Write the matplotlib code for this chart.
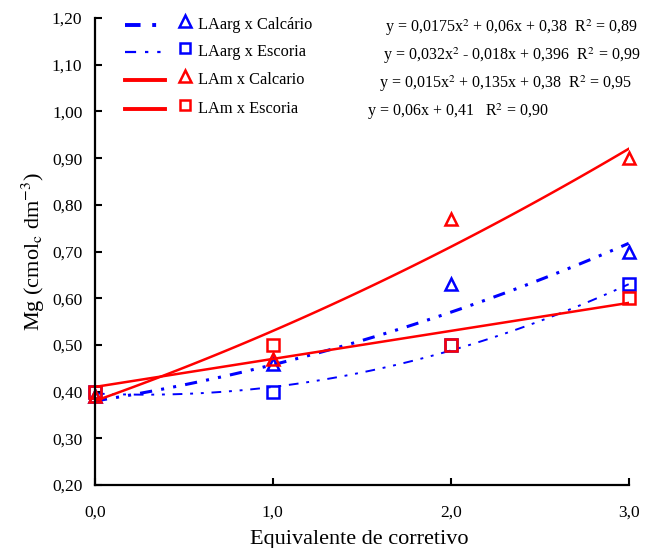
import matplotlib.pyplot as plt
import numpy as np

plt.rcParams['font.family'] = ['Liberation Serif', 'DejaVu Serif']
plt.rcParams['mathtext.fontset'] = 'stix'

# dados
doses = [0, 1, 2, 3]
series_names = ['LAarg x Calcário', 'LAarg x Escoria', 'LAm x Calcario', 'LAm x Escoria']
laarg_calc = [0.39, 0.46, 0.63, 0.70]
laarg_esc = [0.40, 0.40, 0.50, 0.63]
lam_calc = [0.39, 0.47, 0.77, 0.90]
lam_esc = [0.40, 0.50, 0.50, 0.60]

# coeficientes das equações (a2, a1, a0)
coef_laarg_calc = [0.0175, 0.06, 0.38]
coef_laarg_esc = [0.032, -0.018, 0.396]
coef_lam_calc = [0.015, 0.135, 0.38]
coef_lam_esc = [0.0, 0.06, 0.41]

equations = [
    r'y = 0,0175x$^2$ + 0,06x + 0,38  R$^2$ = 0,89',
    r'y = 0,032x$^2$ - 0,018x + 0,396  R$^2$ = 0,99',
    r'y = 0,015x$^2$ + 0,135x + 0,38  R$^2$ = 0,95',
    r'y = 0,06x + 0,41   R$^2$ = 0,90',
]

yticks = [0.2, 0.3, 0.4, 0.5, 0.6, 0.7, 0.8, 0.9, 1.0, 1.1, 1.2]
xticks = [0, 1, 2, 3]

fig = plt.figure(figsize=(6.59, 5.48), dpi=100)
ax = fig.add_axes([0.144, 0.115, 0.81, 0.852])

xs = np.linspace(0, 3, 100)
blue = '#0000ff'
red = '#ff0000'

# estilos: (cor, espessura, espessura legenda, tracejado, marcador, tamanho)
styles = [
    (blue, 2.2, 2.8, (4, 3, 1, 3, 1, 3), '^', 9),
    (blue, 1.4, 1.6, (5, 4, 1.5, 4, 1.5, 4), 's', 8),
    (red, 1.8, 2.8, None, '^', 9),
    (red, 1.8, 2.8, None, 's', 8),
]
coefs = [coef_laarg_calc, coef_laarg_esc, coef_lam_calc, coef_lam_esc]
values = [laarg_calc, laarg_esc, lam_calc, lam_esc]

# posições da legenda (fração dos eixos)
leg_rows = [0.985, 0.927, 0.868, 0.806]

for (c, lw, llw, ds, mk, ms), coef, vals, name, ly in zip(styles, coefs, values, series_names, leg_rows):
    kw = dict(color=c)
    if ds is not None:
        kw['dashes'] = ds
    # linha de tendência
    ax.plot(xs, np.polyval(coef, xs), lw=lw, **kw)
    # pontos
    ax.plot(doses, vals, ls='none', marker=mk, ms=ms, mfc='none', mec=c, mew=1.8, clip_on=False)
    # legenda manual
    ax.plot([0.056, 0.131], [ly, ly], transform=ax.transAxes, clip_on=False, lw=llw, **kw)
    ax.plot([0.169], [ly + 0.008], transform=ax.transAxes, clip_on=False, ls='none',
            marker=mk, ms=ms - 1, mfc='none', mec=c, mew=1.8)
    ax.text(0.193, ly, name, transform=ax.transAxes, ha='left', va='center', fontsize=11.8)

ax.set_xlim(0, 3)
ax.set_ylim(0.2, 1.2)
ax.set_xticks(xticks)
ax.set_xticklabels([('%.1f' % v).replace('.', ',') for v in xticks])
ax.set_yticks(yticks)
ax.set_yticklabels([('%.2f' % v).replace('.', ',') for v in yticks])

ax.spines['top'].set_visible(False)
ax.spines['right'].set_visible(False)
ax.spines['left'].set_linewidth(1.6)
ax.spines['bottom'].set_linewidth(1.6)
ax.tick_params(axis='y', direction='in', length=5, width=1.5, pad=9, labelsize=12.5)
ax.tick_params(axis='x', direction='in', length=5, width=1.5, pad=14, labelsize=12.5)

ax.set_xlabel('Equivalente de corretivo', fontsize=16)
ax.set_ylabel(r'Mg (cmol$_{\mathrm{c}}$ dm$^{-3}$)', fontsize=16)
ax.xaxis.set_label_coords(0.496, -0.097)
ax.yaxis.set_label_coords(-0.09, 0.5)

# equações
eq_x = [0.78, 0.78, 0.77, 0.51]
eq_y = [0.98, 0.92, 0.86, 0.80]
eq_ha = ['center', 'center', 'center', 'left']
for t, x, y, ha in zip(equations, eq_x, eq_y, eq_ha):
    ax.text(x, y, t, transform=ax.transAxes, ha=ha, va='center', fontsize=11.5)

plt.savefig('out.png', dpi=100)
